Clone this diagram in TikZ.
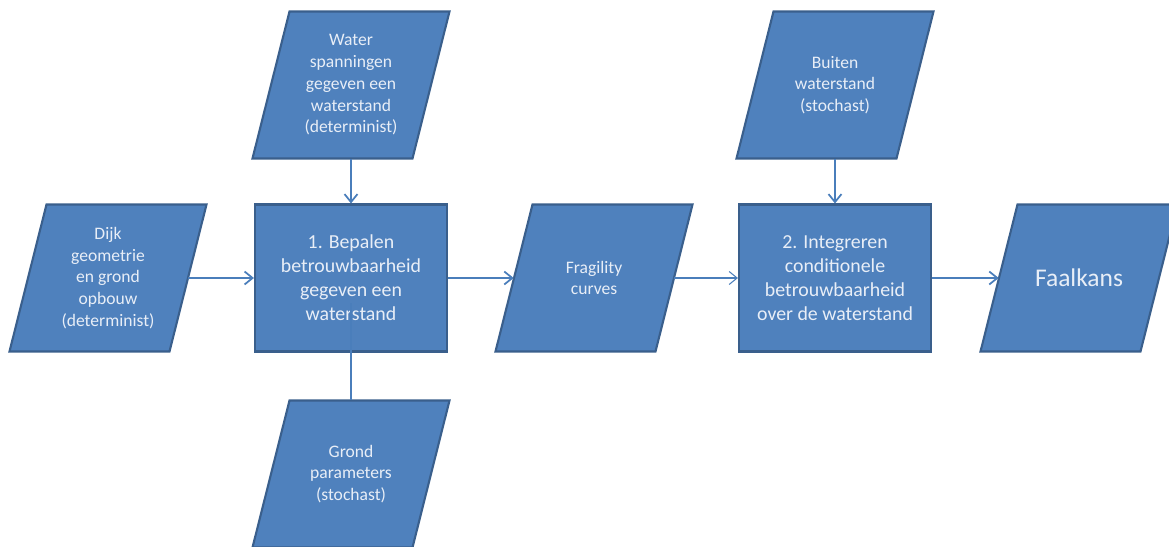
\documentclass[tikz,border=0pt]{standalone}
\usepackage{fontspec}
\setmainfont{Carlito}
\usetikzlibrary{arrows.meta,positioning}
\definecolor{boxfill}{HTML}{4F81BD}
\definecolor{boxedge}{HTML}{3A5F8C}
\definecolor{arrowblue}{HTML}{4A7EBB}
\definecolor{textwhite}{HTML}{E8EEF7}

% parallelogram: slanted outline first, then the named text node on top
\newcommand{\databox}[5][]{%
  \filldraw[boxshape] (#3-61.5,#4-73.5) -- (#3+98.5,#4-73.5)
    -- (#3+61.5,#4+73.5) -- (#3-98.5,#4+73.5) -- cycle;
  \node[datatext,#1] (#2) at (#3,#4) {#5};}

\begin{document}
\begin{tikzpicture}[x=0.02cm,y=-0.02cm,
    boxshape/.style={fill=boxfill, draw=boxedge, line width=1.2pt},
    stepbox/.style={rectangle, boxshape,
      minimum width=3.84cm, minimum height=2.94cm, inner sep=0pt,
      text=textwhite, align=center, font=\fontsize{11.3}{13.7}\selectfont},
    datatext/.style={rectangle, minimum width=3.2cm, minimum height=2.94cm,
      inner sep=0pt, text=textwhite, align=center,
      font=\fontsize{10}{12.4}\selectfont},
    flow/.style={draw=arrowblue, line width=1pt,
      -{Straight Barb[length=0.16cm,width=0.26cm]}}]
    \useasboundingbox (0,0) rectangle (1169,547);
    % inputs
    \databox{water}{351}{85}{Water\\spanningen\\gegeven een\\waterstand\\(determinist)}
    \databox{dijk}{108}{278}{Dijk\\geometrie\\en grond\\opbouw\\(determinist)}
    \databox{grond}{351}{474}{Grond\\parameters\\(stochast)}
    \databox{buiten}{835}{85}{Buiten\\waterstand\\(stochast)}
    % steps
    \node[stepbox] (bepalen) at (351,278) {1. Bepalen\\betrouwbaarheid\\gegeven een\\waterstand};
    \databox{fragility}{594}{278}{Fragility\\curves}
    \node[stepbox] (integreren) at (835,278) {2. Integreren\\conditionele\\betrouwbaarheid\\over de waterstand};
    \databox[font=\fontsize{14.5}{17}\selectfont]{faalkans}{1079}{278}{Faalkans}
    % connectors
    \draw[flow] (water) -- (bepalen);
    \draw[flow] (dijk) -- (bepalen);
    \draw[flow] (bepalen) -- (fragility);
    \draw[flow, line width=0.6pt] (fragility) -- (integreren);
    \draw[flow] (buiten) -- (integreren);
    \draw[flow] (integreren) -- (faalkans);
    \coordinate (grondend) at (351,303);
    \draw[draw=arrowblue, line width=1pt] (grond) -- (grondend);
\end{tikzpicture}
\end{document}
